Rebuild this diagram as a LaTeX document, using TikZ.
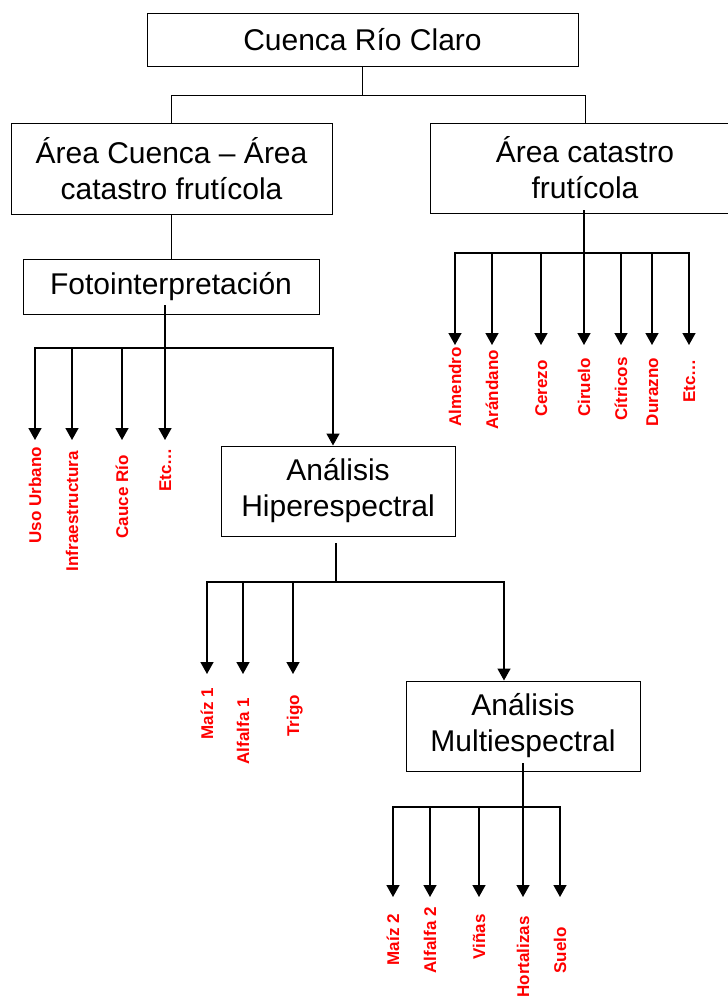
\documentclass[tikz,border=0pt]{standalone}
\usepackage{fontspec}
\setmainfont{Liberation Sans}
\usetikzlibrary{arrows.meta}
\tikzset{
  caja/.style={draw, line width=1pt, align=center, inner sep=0pt, font=\fontsize{30}{36}\selectfont},
  linea/.style={line width=1pt},
  tronco/.style={line width=2.2pt},
  flecha/.style={line width=1.5pt, -{Triangle[width=13pt,length=12pt]}},
  etiqueta/.style={rotate=90, anchor=east, text=red, inner sep=0pt, text height=12pt, text depth=0pt, font=\bfseries\fontsize{17}{20}\selectfont}
}
\begin{document}
\begin{tikzpicture}[x=1pt,y=-1pt]
\clip(0,0) rectangle (728,999);
\fill[white](0,0) rectangle (728,999);
% cajas
\node[caja, minimum width=431pt, minimum height=53pt] (cuenca) at (362.5,39.5) {Cuenca Río Claro};
\node[caja, minimum width=321pt, minimum height=91pt] (areaCuenca) at (171.5,168.5) {Área Cuenca – Área\\catastro frutícola};
\node[caja, minimum width=310pt, minimum height=90pt] (areaCat) at (585,168) {Área catastro\\frutícola};
\node[caja, minimum width=296pt, minimum height=55pt] (foto) at (171,286.5) {Fotointerpretación};
\node[caja, minimum width=234pt, minimum height=90pt] (hiper) at (338,491) {Análisis\\Hiperespectral};
\node[caja, minimum width=234pt, minimum height=90pt] (multi) at (523,726) {Análisis\\Multiespectral};
%
\coordinate (arriba) at (362.5,95);
\draw[linea](cuenca.south)--(arriba)-|(areaCuenca.north);
\draw[linea](arriba)-|(areaCat.north);
\draw[linea](areaCuenca.south)--(areaCuenca.south |- foto.north);
% fotointerpretacion
\coordinate (fotoIni) at (165,305);
\coordinate (fotoBarra) at (165,348);
\draw[tronco](fotoIni)--(fotoBarra);
\coordinate (pUso) at (35,440);
\coordinate (pInfra) at (72,440);
\coordinate (pCauce) at (122,440);
\coordinate (pEtcA) at (165,440);
\draw[flecha](fotoBarra)-|(pUso);
\draw[flecha](fotoBarra)-|(pInfra);
\draw[flecha](fotoBarra)-|(pCauce);
\draw[flecha](fotoBarra)-|(pEtcA);
\draw[flecha](fotoBarra)-|([xshift=-5pt]hiper.north);
\node[etiqueta] (uso) at (35,447) {Uso Urbano};
\node[etiqueta] (infra) at (72,451) {Infraestructura};
\node[etiqueta] (cauce) at (122,455) {Cauce Río};
\node[etiqueta] (etcA) at (165,448) {Etc…};
% catastro frutícola
\coordinate (catIni) at (584,210);
\coordinate (catBarra) at (584,253);
\draw[tronco](catIni)--(catBarra);
\coordinate (pAlm) at (455,345);
\coordinate (pAra) at (492,345);
\coordinate (pCer) at (541,345);
\coordinate (pCir) at (584,345);
\coordinate (pCit) at (621,345);
\coordinate (pDur) at (652,345);
\coordinate (pEtcB) at (689,345);
\draw[flecha](catBarra)-|(pAlm);
\draw[flecha](catBarra)-|(pAra);
\draw[flecha](catBarra)-|(pCer);
\draw[flecha](catBarra)-|(pCir);
\draw[flecha](catBarra)-|(pCit);
\draw[flecha](catBarra)-|(pDur);
\draw[flecha](catBarra)-|(pEtcB);
\node[etiqueta] (alm) at (455,347) {Almendro};
\node[etiqueta] (ara) at (492,350) {Arándano};
\node[etiqueta] (cer) at (541,360) {Cerezo};
\node[etiqueta] (cir) at (584,358) {Ciruelo};
\node[etiqueta] (cit) at (621,357) {Cítricos};
\node[etiqueta] (dur) at (652,358) {Durazno};
\node[etiqueta] (etcB) at (689,359) {Etc…};
% hiperespectral
\coordinate (hipIni) at (336,543);
\coordinate (hipBarra) at (336,582);
\draw[tronco](hipIni)--(hipBarra);
\coordinate (pMaizA) at (207,674);
\coordinate (pAlfA) at (243,674);
\coordinate (pTrigo) at (293,674);
\draw[flecha](hipBarra)-|(pMaizA);
\draw[flecha](hipBarra)-|(pAlfA);
\draw[flecha](hipBarra)-|(pTrigo);
\draw[flecha](hipBarra)-|([xshift=-19pt]multi.north);
\node[etiqueta] (maizA) at (207,688) {Maíz 1};
\node[etiqueta] (alfA) at (243,698) {Alfalfa 1};
\node[etiqueta] (trigo) at (293,695) {Trigo};
% multiespectral
\coordinate (mulIni) at (523,763);
\coordinate (mulBarra) at (523,807);
\draw[tronco](mulIni)--(mulBarra);
\coordinate (pMaizB) at (393,897);
\coordinate (pAlfB) at (430,897);
\coordinate (pVin) at (479,897);
\coordinate (pHor) at (523,897);
\coordinate (pSue) at (560,897);
\draw[flecha](mulBarra)-|(pMaizB);
\draw[flecha](mulBarra)-|(pAlfB);
\draw[flecha](mulBarra)-|(pVin);
\draw[flecha](mulBarra)-|(pHor);
\draw[flecha](mulBarra)-|(pSue);
\node[etiqueta] (maizB) at (393,914) {Maíz 2};
\node[etiqueta] (alfB) at (430,907) {Alfalfa 2};
\node[etiqueta] (vin) at (479,914) {Viñas};
\node[etiqueta] (hor) at (523,916) {Hortalizas};
\node[etiqueta] (sue) at (560,927) {Suelo};
\end{tikzpicture}
\end{document}
